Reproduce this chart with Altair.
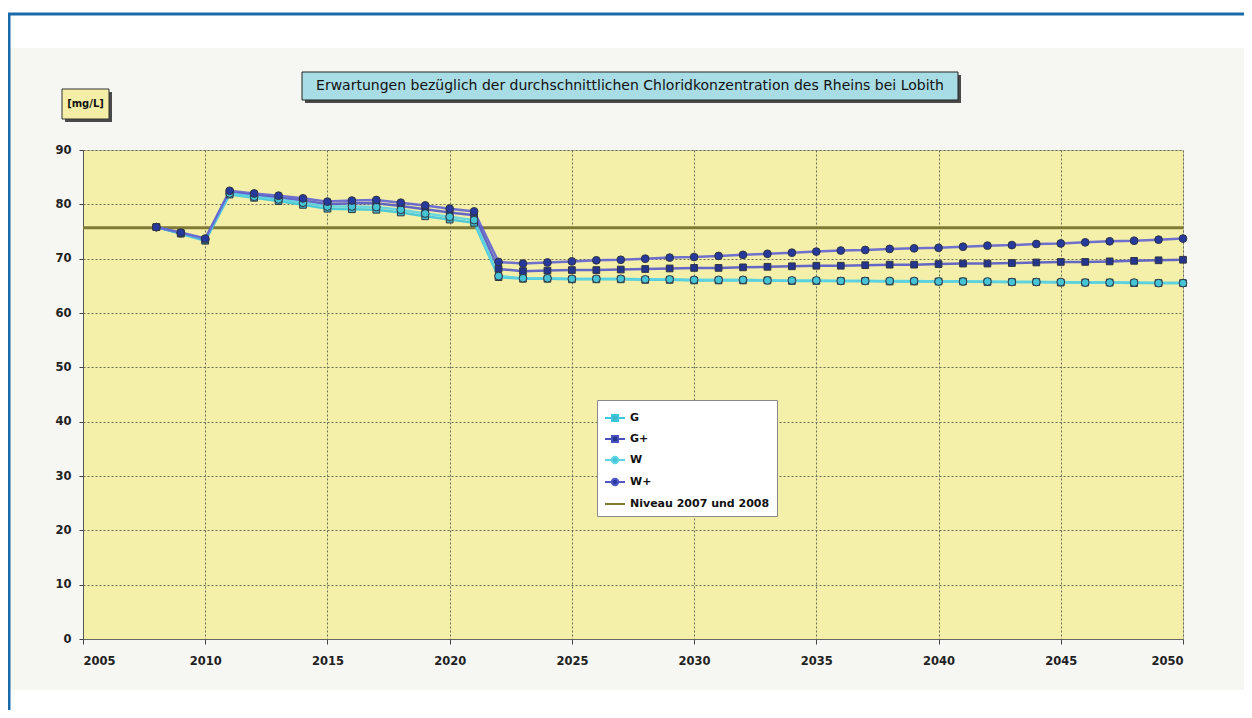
import altair as alt
import pandas as pd

years = list(range(2008, 2051))

g_vals = [75.8, 74.6, 73.3, 81.8, 81.2, 80.6, 79.9, 79.2, 79.1, 79.0, 78.5, 77.8, 77.2, 76.6,
          66.6, 66.3, 66.3, 66.2, 66.2, 66.2, 66.1, 66.1, 66.0, 66.0, 66.0, 66.0, 65.9, 65.9,
          65.9, 65.9, 65.8, 65.8, 65.8, 65.8, 65.7, 65.7, 65.7, 65.6, 65.6, 65.6, 65.5, 65.5, 65.5]
gplus_vals = [75.8, 74.7, 73.5, 82.2, 81.7, 81.2, 80.7, 80.0, 80.2, 80.2, 79.7, 79.1, 78.5, 78.0,
              68.1, 67.7, 67.8, 67.9, 67.9, 68.0, 68.1, 68.2, 68.3, 68.3, 68.4, 68.5, 68.6, 68.7,
              68.7, 68.8, 68.9, 68.9, 69.0, 69.1, 69.1, 69.2, 69.3, 69.4, 69.4, 69.5, 69.6, 69.7, 69.8]
w_vals = [75.8, 74.7, 73.5, 82.0, 81.4, 80.9, 80.3, 79.6, 79.6, 79.5, 79.0, 78.3, 77.7, 77.1,
          66.8, 66.4, 66.4, 66.3, 66.3, 66.3, 66.2, 66.2, 66.1, 66.1, 66.1, 66.0, 66.0, 66.0,
          65.9, 65.9, 65.9, 65.9, 65.8, 65.8, 65.8, 65.7, 65.7, 65.7, 65.6, 65.6, 65.6, 65.5, 65.5]
wplus_vals = [75.8, 74.8, 73.7, 82.5, 82.0, 81.6, 81.1, 80.5, 80.7, 80.8, 80.3, 79.8, 79.2, 78.7,
              69.4, 69.1, 69.3, 69.5, 69.7, 69.8, 70.0, 70.2, 70.3, 70.5, 70.7, 70.9, 71.1, 71.3,
              71.5, 71.6, 71.8, 71.9, 72.0, 72.2, 72.4, 72.5, 72.7, 72.8, 73.0, 73.2, 73.3, 73.5, 73.7]
niveau_value = 75.7

series_names = ["G", "G+", "W", "W+", "Niveau 2007 und 2008"]
line_colors = ["#3cc6dc", "#5558c6", "#5dd3e3", "#6062d0", "#7f7a35"]
marker_fills = ["#3fb8cc", "#23358f", "#45c4d6", "#263a9e", "#7f7a35"]
legend_strokes = ["#3cc6dc", "#4a50c0", "#5dd3e3", "#5058c8", "#7f7a35"]

title_text = "Erwartungen bezüglich der durchschnittlichen Chloridkonzentration des Rheins bei Lobith"
unit_text = "[mg/L]"

rows = []
for i, (name, vals) in enumerate(zip(series_names[:4], [g_vals, gplus_vals, w_vals, wplus_vals])):
    for y, v in zip(years, vals):
        rows.append({"series": name, "year": y, "value": v,
                     "linecol": line_colors[i], "fillcol": marker_fills[i]})
df = pd.DataFrame(rows)
niveau_df = pd.DataFrame({"series": [series_names[4]], "value": [niveau_value],
                          "linecol": [line_colors[4]]})
# legend-only rows, hidden under the legend box
legend_df = pd.DataFrame({"series": series_names, "year": [2030] * 5, "value": [33] * 5})
one = pd.DataFrame({"a": [0]})

FONT = "DejaVu Sans"

x_enc = alt.X("year:Q", scale=alt.Scale(domain=[2005, 2050], nice=False, zero=False),
              axis=alt.Axis(values=list(range(2005, 2051, 5)), format="d", title=None,
                            tickSize=5, labelPadding=11, labelFontSize=11.5, labelFontWeight="bold",
                            labelFont=FONT, labelColor="#222", domainColor="#666", tickColor="#444",
                            gridColor="#6a6a5a", gridDash=[2, 2], gridWidth=1))
y_enc = alt.Y("value:Q", scale=alt.Scale(domain=[0, 90], nice=False),
              axis=alt.Axis(values=list(range(0, 91, 10)), title=None,
                            tickSize=4, labelPadding=8, labelFontSize=11.5, labelFontWeight="bold",
                            labelFont=FONT, labelColor="#222", domainColor="#555", tickColor="#444",
                            gridColor="#6a6a5a", gridDash=[2, 2], gridWidth=1))

# decorations (outside plot area)
white_top = alt.Chart(one).mark_rect(color="white").encode(
    x=alt.value(-75), x2=alt.value(1161), y=alt.value(-142), y2=alt.value(-102))
white_bottom = alt.Chart(one).mark_rect(color="white").encode(
    x=alt.value(-75), x2=alt.value(1161), y=alt.value(540), y2=alt.value(560))
frame_top = alt.Chart(one).mark_rule(color="#1a6aab", strokeWidth=3).encode(
    x=alt.value(-75), x2=alt.value(1161), y=alt.value(-136))
frame_left = alt.Chart(one).mark_rule(color="#1a6aab", strokeWidth=3).encode(
    x=alt.value(-74), y=alt.value(-136), y2=alt.value(560))
title_shadow = alt.Chart(one).mark_rect(color="#4a4a4a").encode(
    x=alt.value(222), x2=alt.value(878), y=alt.value(-75), y2=alt.value(-47))
title_box = alt.Chart(one).mark_rect(fill="#a9dde6", stroke="#222", strokeWidth=1).encode(
    x=alt.value(219), x2=alt.value(875), y=alt.value(-78), y2=alt.value(-50))
title_txt = alt.Chart(one).mark_text(text=title_text, font=FONT, fontSize=14, color="#111",
                                     align="center", baseline="middle").encode(
    x=alt.value(547), y=alt.value(-64))
unit_shadow = alt.Chart(one).mark_rect(color="#4a4a4a").encode(
    x=alt.value(-18), x2=alt.value(29), y=alt.value(-58), y2=alt.value(-28))
unit_box = alt.Chart(one).mark_rect(fill="#f4eea6", stroke="#333", strokeWidth=1).encode(
    x=alt.value(-21), x2=alt.value(26), y=alt.value(-61), y2=alt.value(-31))
unit_txt = alt.Chart(one).mark_text(text=unit_text, font=FONT, fontSize=10, fontWeight="bold",
                                    color="#111", align="center", baseline="middle").encode(
    x=alt.value(2.5), y=alt.value(-46))

base = alt.Chart(df)

niveau = alt.Chart(niveau_df).mark_rule(strokeWidth=3).encode(
    y=y_enc, color=alt.Color("linecol:N", scale=None))

lines = base.mark_line(strokeWidth=2.5, opacity=0.9).encode(
    x=x_enc, y=y_enc, color=alt.Color("linecol:N", scale=None), detail="series:N")

sq_points = base.transform_filter(alt.FieldOneOfPredicate(field="series", oneOf=["G", "G+"])).mark_point(
    shape="square", filled=True, size=45, stroke="#2f3440", strokeWidth=1, opacity=1).encode(
    x=x_enc, y=y_enc, fill=alt.Fill("fillcol:N", scale=None))
ci_points = base.transform_filter(alt.FieldOneOfPredicate(field="series", oneOf=["W", "W+"])).mark_point(
    shape="circle", filled=True, size=60, stroke="#2f3440", strokeWidth=1, opacity=1).encode(
    x=x_enc, y=y_enc, fill=alt.Fill("fillcol:N", scale=None))

sq_path = "M-1,0L-0.3,0M0.3,0L1,0M-0.3,-0.3L0.3,-0.3L0.3,0.3L-0.3,0.3Z"
ci_path = "M-1,0L-0.32,0M0.32,0L1,0M0.32,0A0.32,0.32,0,1,1,-0.32,0A0.32,0.32,0,1,1,0.32,0Z"
ln_path = "M-1,0L1,0"

leg = alt.Legend(title=None, orient="none", legendX=514, legendY=250, fillColor="white",
                 strokeColor="#8a8a8a", padding=7, symbolSize=400, symbolStrokeWidth=2,
                 labelFontSize=11, labelFont=FONT, labelFontWeight="bold", labelColor="#111",
                 rowPadding=3, labelOffset=4, symbolOpacity=1)

legend_layer = alt.Chart(legend_df).mark_point(filled=True, size=4).encode(
    x=x_enc, y=y_enc,
    fill=alt.Fill("series:N", scale=alt.Scale(domain=series_names, range=marker_fills), legend=leg),
    stroke=alt.Stroke("series:N", scale=alt.Scale(domain=series_names, range=legend_strokes), legend=leg),
    shape=alt.Shape("series:N", scale=alt.Scale(domain=series_names,
                                                range=[sq_path, sq_path, ci_path, ci_path, ln_path]),
                    legend=leg))

chart = alt.layer(
    white_top, white_bottom, frame_top, frame_left,
    title_shadow, title_box, title_txt, unit_shadow, unit_box, unit_txt,
    niveau, lines, sq_points, ci_points, legend_layer
).properties(
    width=1100, height=489,
    padding={"left": 75, "top": 142, "right": 61, "bottom": 71},
    autosize=alt.AutoSizeParams(type="none"),
    background="#f6f7f3"
).configure_view(fill="#f4f0aa", stroke="#c8c6a0")

chart.save("out.html", embed_options={"renderer": "svg", "actions": False})
